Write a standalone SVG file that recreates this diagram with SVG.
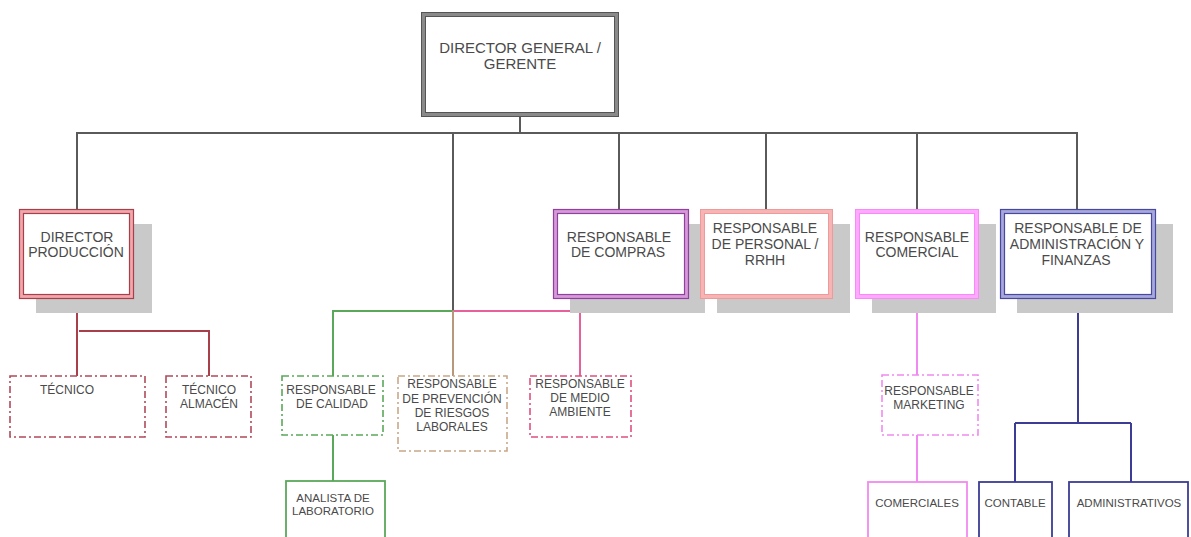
<svg xmlns="http://www.w3.org/2000/svg" width="1191" height="537" viewBox="0 0 1191 537">
<style>
text{font-family:"Liberation Sans",Arial,sans-serif;fill:#4a4a4a;text-anchor:middle}
.t1{font-size:15px}
.t2{font-size:14px}
.t3{font-size:12px}
.t4{font-size:11.5px}
.sh{fill:#c9c9c9}
.w{fill:#fff}
.dd{fill:#fff;stroke-width:1.6;stroke-dasharray:7 3 2 3}
.sol{fill:#fff;stroke-width:1.8}
.c{fill:none;stroke-width:2}
</style>
<rect width="1191" height="537" fill="#fff"/>
<g id="connectors">
<path class="c" stroke="#5a5a5a" d="M520 117V133M76 133H1078M77 133V209M453 133V311M619 133V209M766 133V209M917 133V209M1077 133V209"/>
<path class="c" stroke="#a8404c" d="M77 299V376M79 331H209V376"/>
<path class="c" stroke="#5aa85a" d="M453 311H333V376M333 435V481"/>
<path class="c" stroke="#e8609a" d="M453 311H580V376"/>
<path class="c" stroke="#b8987a" d="M453 311V376"/>
<path class="c" stroke="#f08af0" d="M917 299V375M917 435V482"/>
<path class="c" stroke="#3c3c96" d="M1078 299V423M1015 423H1131M1015 423V482M1131 423V482"/>
</g>
<g id="director-general">
<rect class="w" x="423.5" y="14.5" width="193" height="100" stroke="#8a8a8a" stroke-width="5"/>
<rect x="421.5" y="12.5" width="197" height="104" fill="none" stroke="#555" stroke-width="1"/>
<rect x="425.5" y="16.5" width="189" height="96" fill="none" stroke="#555" stroke-width="1"/>
<text class="t1" x="520" y="53">DIRECTOR GENERAL /</text>
<text class="t1" x="520" y="69">GERENTE</text>
</g>
<g id="director-produccion">
<rect class="sh" x="36" y="224" width="116" height="89"/>
<rect class="w" x="21.5" y="211.5" width="110" height="85" stroke="#f0a8ac" stroke-width="5"/>
<rect x="19.5" y="209.5" width="114" height="89" fill="none" stroke="#a8404c" stroke-width="1.2"/>
<rect x="23.5" y="213.5" width="106" height="81" fill="none" stroke="#a8404c" stroke-width="1.2"/>
<text class="t2" x="77" y="242">DIRECTOR</text>
<text class="t2" x="76" y="257">PRODUCCIÓN</text>
</g>
<g id="responsable-compras">
<rect class="sh" x="570" y="224" width="135" height="89"/>
<rect class="w" x="555.5" y="211.5" width="131" height="85" stroke="#d69ad8" stroke-width="5"/>
<rect x="553.5" y="209.5" width="135" height="89" fill="none" stroke="#9040a0" stroke-width="1.2"/>
<rect x="557.5" y="213.5" width="127" height="81" fill="none" stroke="#9040a0" stroke-width="1.2"/>
<text class="t2" x="619" y="242">RESPONSABLE</text>
<text class="t2" x="618" y="257">DE COMPRAS</text>
</g>
<g id="responsable-personal">
<rect class="sh" x="717" y="224" width="133" height="89"/>
<rect class="w" x="702.5" y="211.5" width="128" height="85" stroke="#f6b4b4" stroke-width="5"/>
<rect x="700.5" y="209.5" width="132" height="89" fill="none" stroke="#ee9a9a" stroke-width="1"/>
<rect x="704.5" y="213.5" width="124" height="81" fill="none" stroke="#ee9a9a" stroke-width="1"/>
<text class="t2" x="765" y="233">RESPONSABLE</text>
<text class="t2" x="765" y="249">DE PERSONAL /</text>
<text class="t2" x="765" y="265">RRHH</text>
</g>
<g id="responsable-comercial">
<rect class="sh" x="872" y="224" width="124" height="89"/>
<rect class="w" x="857.5" y="211.5" width="119" height="85" stroke="#ffa8ff" stroke-width="5"/>
<rect x="855.5" y="209.5" width="123" height="89" fill="none" stroke="#f88af8" stroke-width="1"/>
<rect x="859.5" y="213.5" width="115" height="81" fill="none" stroke="#f88af8" stroke-width="1"/>
<text class="t2" x="917" y="242">RESPONSABLE</text>
<text class="t2" x="917" y="257">COMERCIAL</text>
</g>
<g id="responsable-administracion">
<rect class="sh" x="1017" y="224" width="156" height="89"/>
<rect class="w" x="1002.5" y="211.5" width="151" height="85" stroke="#a8a8dc" stroke-width="5"/>
<rect x="1000.5" y="209.5" width="155" height="89" fill="none" stroke="#4848a0" stroke-width="1.2"/>
<rect x="1004.5" y="213.5" width="147" height="81" fill="none" stroke="#4848a0" stroke-width="1.2"/>
<text class="t2" x="1078" y="233">RESPONSABLE DE</text>
<text class="t2" x="1077" y="249">ADMINISTRACIÓN Y</text>
<text class="t2" x="1076" y="265">FINANZAS</text>
</g>
<g id="tecnico">
<rect class="dd" stroke="#b04a5a" x="10" y="376" width="135" height="61"/>
<text class="t3" x="67" y="394">TÉCNICO</text>
</g>
<g id="tecnico-almacen">
<rect class="dd" stroke="#b04a5a" x="166" y="376" width="85" height="61"/>
<text class="t3" x="209" y="394">TÉCNICO</text>
<text class="t3" x="209" y="408">ALMACÉN</text>
</g>
<g id="responsable-calidad">
<rect class="dd" stroke="#5aa85a" x="282" y="376" width="101" height="59"/>
<text class="t3" x="331" y="394">RESPONSABLE</text>
<text class="t3" x="332" y="408">DE CALIDAD</text>
</g>
<g id="responsable-prevencion">
<rect class="dd" stroke="#c8a888" x="398" y="376" width="109" height="75"/>
<text class="t3" x="452" y="388">RESPONSABLE</text>
<text class="t3" x="452" y="403">DE PREVENCIÓN</text>
<text class="t3" x="452" y="417">DE RIESGOS</text>
<text class="t3" x="452" y="431">LABORALES</text>
</g>
<g id="responsable-medio-ambiente">
<rect class="dd" stroke="#e0507e" x="530" y="376" width="101" height="61"/>
<text class="t3" x="580" y="388">RESPONSABLE</text>
<text class="t3" x="580" y="402">DE MEDIO</text>
<text class="t3" x="580" y="416">AMBIENTE</text>
</g>
<g id="analista-laboratorio">
<rect class="sol" stroke="#5aa85a" x="286" y="481" width="99" height="70"/>
<text class="t4" x="333" y="502">ANALISTA DE</text>
<text class="t4" x="333" y="515">LABORATORIO</text>
</g>
<g id="responsable-marketing">
<rect class="dd" stroke="#f08af0" x="882" y="375" width="96" height="60"/>
<text class="t3" x="929" y="395">RESPONSABLE</text>
<text class="t3" x="929" y="409">MARKETING</text>
</g>
<g id="comerciales">
<rect class="sol" stroke="#f08af0" x="868" y="482" width="99" height="70"/>
<text class="t4" x="917" y="507">COMERCIALES</text>
</g>
<g id="contable">
<rect class="sol" stroke="#3c3c96" x="979" y="482" width="73" height="70"/>
<text class="t4" x="1015" y="507">CONTABLE</text>
</g>
<g id="administrativos">
<rect class="sol" stroke="#3c3c96" x="1069" y="482" width="119" height="70"/>
<text class="t4" x="1129" y="507">ADMINISTRATIVOS</text>
</g>
</svg>
